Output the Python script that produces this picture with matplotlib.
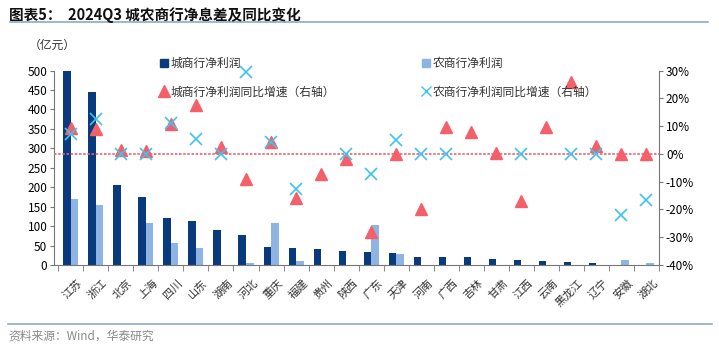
import numpy as np
import matplotlib.pyplot as plt
from matplotlib.lines import Line2D
from matplotlib.patches import Patch
from matplotlib.ticker import FuncFormatter

plt.rcParams['font.family'] = ['Noto Sans CJK SC', 'DejaVu Sans']
plt.rcParams['axes.unicode_minus'] = False

provinces = ["江苏", "浙江", "北京", "上海", "四川", "山东", "湖南", "河北", "重庆", "福建",
             "贵州", "陕西", "广东", "天津", "河南", "广西", "吉林", "甘肃", "江西", "云南",
             "黑龙江", "辽宁", "安徽", "湖北"]
city_profit = [500, 445, 206, 176, 121, 112, 89, 76, 46, 43,
               40, 36, 34, 32, 21, 21, 20, 15, 13, 10,
               8, 4, 0, 0]
rural_profit = [170, 154, 0, 108, 57, 43, 0, 5, 107, 10,
                0, 0, 104, 29, 0, 0, 1, 0, 0, 0,
                0, 0, 12, 5]
city_yoy = [9.4, 8.8, 1.3, 1.0, 10.9, 17.7, 2.5, -9.1, 4.3, -15.7,
            -7.2, -1.9, -28.0, 0.1, -20.0, 9.8, 8.0, 0.4, -17.0, 9.8,
            26.0, 2.8, 0.0, 0.0]
rural_yoy = [7.3, 12.7, 0.0, 0.0, 11.2, 5.4, 0.0, 29.5, 4.3, -12.6,
             np.nan, 0.0, -7.3, 4.9, 0.0, 0.0, np.nan, np.nan, 0.0, np.nan,
             0.0, 0.0, -21.9, -16.7]

navy = "#0a3a7e"
light = "#8db4e2"
red = "#f4606a"
cyan = "#3cc4ee"

x = np.arange(len(provinces))

fig = plt.figure(figsize=(7.19, 3.51), dpi=100)
ax = fig.add_axes([0.0755, 0.245, 0.841, 0.554])
ax2 = ax.twinx()

ax.bar(x - 0.15, city_profit, width=0.3, color=navy, zorder=2)
ax.bar(x + 0.15, rural_profit, width=0.3, color=light, zorder=2)
ax.set_ylim(0, 500)
ax.set_yticks(np.arange(0, 501, 50))
ax.set_xlim(-0.66, 23.5)
ax.set_xticks(x + 0.25)
ax.set_xticklabels(provinces, rotation=45, fontsize=8, color="#333333",
                   ha="right", va="top", rotation_mode="anchor")
ax.set_xticks(np.arange(-0.5, 23.6, 1), minor=True)
ax.tick_params(axis="x", which="major", length=0, pad=9)
ax.tick_params(axis="x", which="minor", length=4, direction="out", color="#777777")
ax.tick_params(axis="y", labelsize=8.5, length=3, color="#777777", pad=2)

ax2.plot(x, city_yoy, "^", color=red, markersize=8, zorder=4, clip_on=False)
ax2.plot(x, rural_yoy, "x", color=cyan, markersize=9, markeredgewidth=1.2, zorder=5, clip_on=False)
ax2.axhline(0, color="#f0606a", linestyle=(0, (1.5, 1)), linewidth=1.2, zorder=3)
ax2.set_ylim(-40, 30)
ax2.set_yticks(np.arange(-40, 31, 10))
ax2.yaxis.set_major_formatter(FuncFormatter(lambda v, p: f"{v:.0f}%"))
ax2.tick_params(axis="y", labelsize=8.5, length=3, color="#777777", pad=2)

for a in (ax, ax2):
    a.spines["top"].set_visible(False)
    for s in ("left", "right", "bottom"):
        a.spines[s].set_color("#777777")
ax.spines["right"].set_visible(False)
ax2.spines["left"].set_visible(False)
ax2.spines["bottom"].set_visible(False)

h1 = [Patch(color=navy), Line2D([], [], marker="^", color=red, linestyle="none", markersize=8)]
l1 = ["城商行净利润", "城商行净利润同比增速（右轴）"]
h2 = [Patch(color=light), Line2D([], [], marker="x", color=cyan, linestyle="none", markersize=7)]
l2 = ["农商行净利润", "农商行净利润同比增速（右轴）"]
leg1 = fig.legend(h1, l1, loc="upper left", bbox_to_anchor=(0.208, 0.868), frameon=False,
                  fontsize=8.5, labelspacing=1.3, handlelength=0.7, handletextpad=0.2,
                  labelcolor="#333333")
leg2 = fig.legend(h2, l2, loc="upper left", bbox_to_anchor=(0.572, 0.868), frameon=False,
                  fontsize=8.5, labelspacing=1.3, handlelength=0.7, handletextpad=0.2,
                  labelcolor="#333333")

fig.text(0.04, 0.872, "（亿元）", fontsize=8.5, color="#333333", va="center")
fig.text(0.012, 0.958, "图表5：  2024Q3 城农商行净息差及同比变化", fontsize=10.5,
         fontweight="bold", va="center", color="#111111")
fig.add_artist(Line2D([0.014, 0.985], [0.937, 0.937], color="#8ea9c8", linewidth=1.2))
fig.add_artist(Line2D([0.011, 0.99], [0.078, 0.078], color="#8ea9c8", linewidth=1.2))
fig.text(0.012, 0.043, "资料来源：Wind，华泰研究", fontsize=8.5, color="#888888", va="center")

fig.savefig("out.png", dpi=100)
